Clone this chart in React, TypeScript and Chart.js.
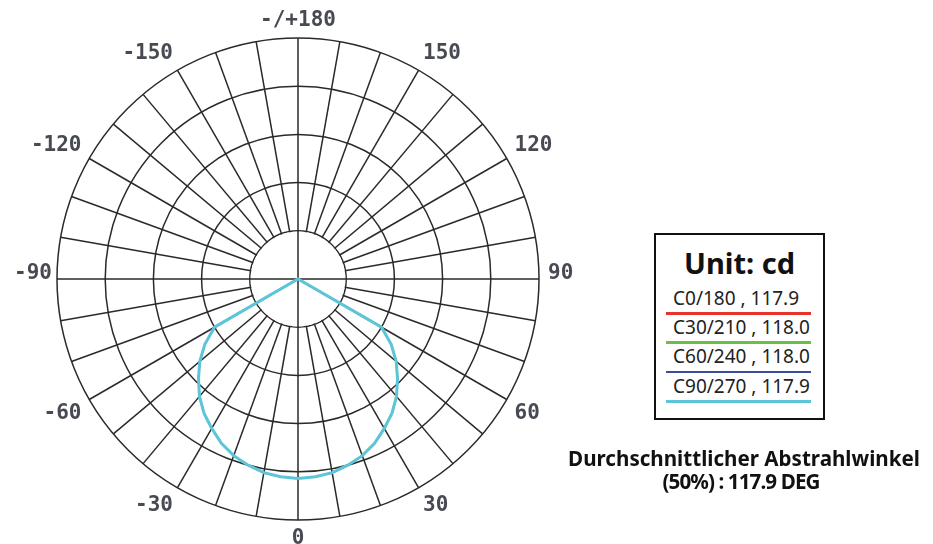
import React, { useEffect, useRef } from 'react';
import { Chart, registerables } from 'chart.js';

Chart.register(...registerables);

// Gamma angles of the radar spokes, in the order the chart walks them
// (0 at the bottom, then the negative side to the left, then the positive side).
const gammaDeg = [
  0, -5, -10, -15, -20, -25, -30, -35, -40, -45, -50, -55, -60, -65, -70, -75, -80, -85,
  -90, -95, -100, -105, -110, -115, -120, -125, -130, -135, -140, -145, -150, -155, -160, -165, -170, -175,
  180, 175, 170, 165, 160, 155, 150, 145, 140, 135, 130, 125, 120, 115, 110, 105, 100, 95,
  90, 85, 80, 75, 70, 65, 60, 55, 50, 45, 40, 35, 30, 25, 20, 15, 10, 5,
];

// Luminous intensity (cd) for each gamma angle above.
const c0_180 = [
  207, 206, 204, 200, 195, 188, 179, 170, 159, 146, 133, 118, 100, 0, 0, 0, 0, 0,
  0, 0, 0, 0, 0, 0, 0, 0, 0, 0, 0, 0, 0, 0, 0, 0, 0, 0,
  0, 0, 0, 0, 0, 0, 0, 0, 0, 0, 0, 0, 0, 0, 0, 0, 0, 0,
  0, 0, 0, 0, 0, 0, 100, 118, 133, 146, 159, 170, 179, 188, 195, 200, 204, 206,
];
const c30_210 = [
  207, 206, 204, 200, 195, 188, 179, 170, 159, 146, 133, 118, 100, 0, 0, 0, 0, 0,
  0, 0, 0, 0, 0, 0, 0, 0, 0, 0, 0, 0, 0, 0, 0, 0, 0, 0,
  0, 0, 0, 0, 0, 0, 0, 0, 0, 0, 0, 0, 0, 0, 0, 0, 0, 0,
  0, 0, 0, 0, 0, 0, 100, 118, 133, 146, 159, 170, 179, 188, 195, 200, 204, 206,
];
const c60_240 = [
  207, 206, 204, 200, 195, 188, 179, 170, 159, 146, 133, 118, 100, 0, 0, 0, 0, 0,
  0, 0, 0, 0, 0, 0, 0, 0, 0, 0, 0, 0, 0, 0, 0, 0, 0, 0,
  0, 0, 0, 0, 0, 0, 0, 0, 0, 0, 0, 0, 0, 0, 0, 0, 0, 0,
  0, 0, 0, 0, 0, 0, 100, 118, 133, 146, 159, 170, 179, 188, 195, 200, 204, 206,
];
const c90_270 = [
  207, 206, 204, 200, 195, 188, 179, 170, 159, 146, 133, 118, 100, 0, 0, 0, 0, 0,
  0, 0, 0, 0, 0, 0, 0, 0, 0, 0, 0, 0, 0, 0, 0, 0, 0, 0,
  0, 0, 0, 0, 0, 0, 0, 0, 0, 0, 0, 0, 0, 0, 0, 0, 0, 0,
  0, 0, 0, 0, 0, 0, 100, 118, 133, 146, 159, 170, 179, 188, 195, 200, 204, 206,
];

const seriesNames = ['C0/180 , 117.9', 'C30/210 , 118.0', 'C60/240 , 118.0', 'C90/270 , 117.9'];
const seriesColors = ['#e8322c', '#6cbf45', '#3b4d9b', '#5cc6d8'];
const axisLabelDeg = [180, 150, 120, 90, 60, 30, 0, -30, -60, -90, -120, -150];
const ringStep = 50;
const ringMax = 250;
const unitTitle = 'Unit: cd';
const footerLines = ['Durchschnittlicher Abstrahlwinkel', '(50%) : 117.9 DEG'];

const GRID = '#2a2a2a';
const GRID_W = 1.5;

function labelFor(g: number): string {
  return g === 180 ? '-/+180' : String(g);
}

const polarDecor = {
  id: 'polarDecor',
  beforeDatasetsDraw(chart: any) {
    const s = chart.scales.r;
    const ctx = chart.ctx as CanvasRenderingContext2D;
    const r1 = s.getDistanceFromCenterForValue(ringStep);
    ctx.save();
    ctx.beginPath();
    ctx.arc(s.xCenter, s.yCenter, r1 - 0.8, 0, Math.PI * 2);
    ctx.fillStyle = '#ffffff';
    ctx.fill();
    ctx.strokeStyle = GRID;
    ctx.lineWidth = GRID_W;
    ctx.beginPath();
    ctx.moveTo(s.xCenter - r1, s.yCenter);
    ctx.lineTo(s.xCenter + r1, s.yCenter);
    ctx.moveTo(s.xCenter, s.yCenter - r1);
    ctx.lineTo(s.xCenter, s.yCenter + r1);
    ctx.stroke();
    ctx.restore();
  },
  afterDraw(chart: any) {
    const s = chart.scales.r;
    const ctx = chart.ctx as CanvasRenderingContext2D;
    ctx.save();
    ctx.font = 'bold 21px "DejaVu Sans Mono"';
    ctx.fillStyle = '#474a52';
    ctx.textBaseline = 'alphabetic';
    for (const g of axisLabelDeg) {
      const i = gammaDeg.indexOf(g);
      const p = s.getPointPosition(i, s.drawingArea + 9);
      const dx = p.x - s.xCenter;
      const dy = p.y - s.yCenter;
      ctx.textAlign = Math.abs(dx) < 1 ? 'center' : dx > 0 ? 'left' : 'right';
      let x = p.x;
      let y = p.y;
      if (Math.abs(dy) < 1) {
        y = p.y;
        if (dx < 0) x = p.x + 4;
      } else if (dy < 0) y = p.y - 3;
      else y = p.y + 15;
      ctx.fillText(labelFor(g), x, y);
    }
    ctx.restore();
  },
};

export default function App() {
  const ref = useRef<HTMLCanvasElement>(null);

  useEffect(() => {
    const all = [c0_180, c30_210, c60_240, c90_270];
    const chart = new Chart(ref.current as HTMLCanvasElement, {
      type: 'radar',
      data: {
        labels: gammaDeg.map(labelFor),
        datasets: all.map((d, i) => ({
          label: seriesNames[i],
          data: d,
          borderColor: seriesColors[i],
          backgroundColor: 'transparent',
          borderWidth: i === all.length - 1 ? 3 : 1.6,
          pointRadius: 0,
          fill: false,
          tension: 0,
          order: all.length - i,
        })),
      },
      options: {
        responsive: false,
        animation: false,
        devicePixelRatio: 1,
        layout: { padding: { left: 57, right: 61, top: 38, bottom: 24 } },
        plugins: { legend: { display: false }, tooltip: { enabled: false }, title: { display: false } },
        scales: {
          r: {
            min: 0,
            max: ringMax,
            startAngle: 180,
            ticks: { display: false, stepSize: ringStep },
            grid: { circular: true, color: GRID, lineWidth: GRID_W },
            angleLines: {
              display: true,
              color: GRID,
              lineWidth: (c: any) => (c.index % 2 === 0 ? GRID_W : 0),
            },
            pointLabels: { display: false },
          },
        },
      } as any,
      plugins: [polarDecor],
    });
    return () => chart.destroy();
  }, []);

  const rowY = [299, 328.2, 357.4, 386.6];
  const lineY = [313.6, 342.8, 372, 401.2];

  return (
    <div style={{ position: 'absolute', left: 0, top: 0, width: 933, height: 544, background: '#fff', overflow: 'hidden' }}>
      <canvas
        ref={ref}
        width={600}
        height={544}
        style={{ position: 'absolute', left: 0, top: 0, width: 600, height: 544 }}
      />
      <div
        style={{
          position: 'absolute', left: 654, top: 233, width: 171, height: 187,
          border: '2px solid #111', boxSizing: 'border-box',
        }}
      />
      <div
        style={{
          position: 'absolute', left: 654, width: 171, top: 247.6, textAlign: 'center',
          font: 'bold 29px "Noto Sans"', lineHeight: '29px', color: '#111', whiteSpace: 'nowrap',
        }}
      >
        {unitTitle}
      </div>
      {seriesNames.map((n, i) => (
        <React.Fragment key={n}>
          <div
            style={{
              position: 'absolute', left: 673, top: rowY[i] - 10.1,
              font: '19px "Noto Sans"', lineHeight: '19px', color: '#222', whiteSpace: 'nowrap',
            }}
          >
            {n}
          </div>
          <div
            style={{
              position: 'absolute', left: 666, width: 145, top: lineY[i] - 1.4, height: 2.8,
              background: seriesColors[i],
            }}
          />
        </React.Fragment>
      ))}
      <div
        style={{
          position: 'absolute', left: 544, width: 400, top: 448.1, textAlign: 'center',
          font: 'bold 20.6px "Noto Sans"', lineHeight: '20.6px', color: '#111', whiteSpace: 'nowrap',
        }}
      >
        {footerLines[0]}
      </div>
      <div
        style={{
          position: 'absolute', left: 541, width: 400, top: 470.8, textAlign: 'center',
          font: 'bold 20.6px "Noto Sans"', lineHeight: '20.6px', color: '#111', whiteSpace: 'nowrap',
          letterSpacing: '-0.9px',
        }}
      >
        {footerLines[1]}
      </div>
    </div>
  );
}
